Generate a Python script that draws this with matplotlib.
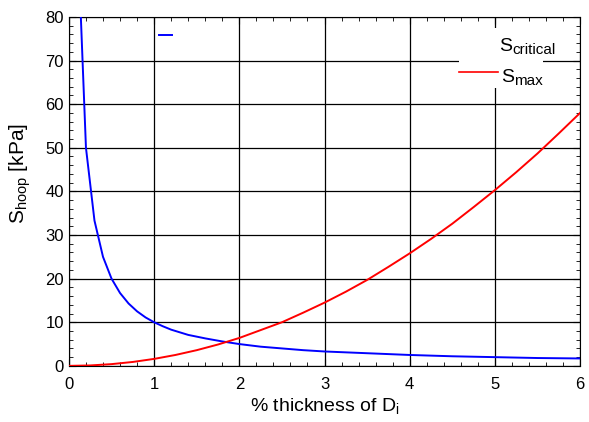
import matplotlib
matplotlib.use("Agg")
import matplotlib.pyplot as plt
from matplotlib.patches import Rectangle
from matplotlib.ticker import MultipleLocator

plt.rcParams['font.family'] = ['Liberation Sans', 'DejaVu Sans']
plt.rcParams['mathtext.fontset'] = 'custom'
plt.rcParams['mathtext.rm'] = 'Liberation Sans'
plt.rcParams['mathtext.it'] = 'Liberation Sans'

# S_critical (blue)
x_crit = [0.1, 0.2, 0.3, 0.4, 0.5, 0.6, 0.7, 0.8, 0.9, 1.0, 1.1, 1.2, 1.3, 1.4, 1.5,
          1.6, 1.8, 2.0, 2.25, 2.5, 2.75, 3.0, 3.5, 4.0, 4.5, 5.0, 5.5, 6.0]
s_crit = [100, 50, 33.3, 25, 20, 16.7, 14.3, 12.5, 11.1, 10, 9.1, 8.3, 7.7, 7.1, 6.7,
          6.3, 5.6, 5.0, 4.4, 4.0, 3.6, 3.3, 2.9, 2.5, 2.2, 2.0, 1.8, 1.7]

# S_max (red)
x_max = [0.0, 0.25, 0.5, 0.75, 1.0, 1.25, 1.5, 1.75, 2.0, 2.25, 2.5, 2.75, 3.0,
         3.25, 3.5, 3.75, 4.0, 4.25, 4.5, 4.75, 5.0, 5.25, 5.5, 5.75, 6.0]
s_max = [0.0, 0.1, 0.4, 0.9, 1.6, 2.5, 3.6, 4.9, 6.4, 8.2, 10.0, 12.2, 14.5,
         17.0, 19.7, 22.7, 25.8, 29.1, 32.6, 36.4, 40.3, 44.4, 48.7, 53.3, 58.0]

fig = plt.figure(figsize=(5.89, 4.22), dpi=100)
ax = fig.add_axes([0.117, 0.133, 0.868, 0.827])

ax.plot(x_crit, s_crit, color='blue', lw=1.4, zorder=3)
ax.plot(x_max, s_max, color='red', lw=1.4, zorder=3)

ax.set_xlim(0, 6)
ax.set_ylim(0, 80)
ax.xaxis.set_major_locator(MultipleLocator(1))
ax.xaxis.set_minor_locator(MultipleLocator(0.2))
ax.yaxis.set_major_locator(MultipleLocator(10))
ax.yaxis.set_minor_locator(MultipleLocator(2))
ax.tick_params(which='both', direction='in', top=True, right=True, labelsize=12)
ax.tick_params(which='major', length=5)
ax.tick_params(which='minor', length=3)
ax.tick_params(axis='x', which='major', pad=8)
ax.grid(True, which='major', color='black', lw=0.9)

ax.set_xlabel(r'% thickness of D$_\mathregular{i}$', fontsize=14, labelpad=3)
ax.set_ylabel(r'$\mathregular{S_{hoop}}$ [kPa]', fontsize=15)
ax.yaxis.set_label_coords(-0.07, 0.55)

# legend-like annotations
ax.add_patch(Rectangle((0.763, 0.797), 0.165, 0.171, transform=ax.transAxes,
                       facecolor='white', edgecolor='none', zorder=2))
ax.plot([0.176, 0.2016], [0.948, 0.948], color='blue', lw=1.4, transform=ax.transAxes, zorder=3)
ax.plot([0.763, 0.839], [0.842, 0.842], color='red', lw=1.2, transform=ax.transAxes, zorder=3)

s1 = ax.text(0.841, 0.914, 'S', transform=ax.transAxes, fontsize=14,
             va='center', ha='left', zorder=4)
ax.annotate('critical', xy=(1, 0), xycoords=s1, xytext=(0, -1),
            textcoords='offset points', fontsize=11, va='bottom', ha='left', zorder=4)
s2 = ax.text(0.845, 0.825, 'S', transform=ax.transAxes, fontsize=14,
             va='center', ha='left', zorder=4)
ax.annotate('max', xy=(1, 0), xycoords=s2, xytext=(0, -1),
            textcoords='offset points', fontsize=11, va='bottom', ha='left', zorder=4)

fig.savefig('out.png', dpi=100)
